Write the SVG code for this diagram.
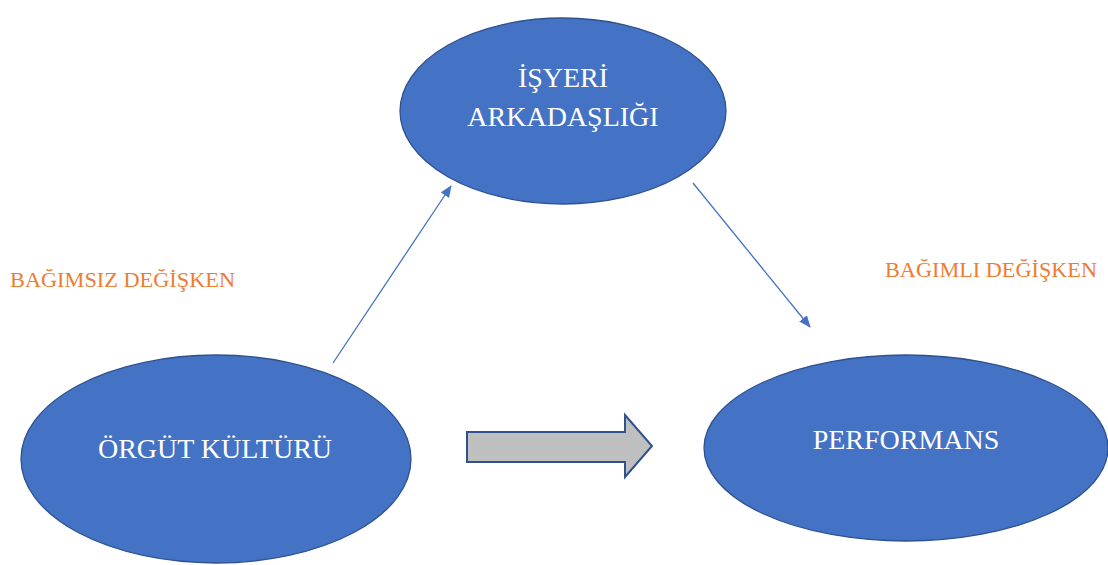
<svg xmlns="http://www.w3.org/2000/svg" width="1108" height="565" viewBox="0 0 1108 565">
<style>
.node{fill:#4472C4;stroke:#2F528F;stroke-width:1.3}
.nt{font-family:"Liberation Serif","Times New Roman",serif;font-size:28px;fill:#FFFFFF;text-anchor:middle}
.lbl{font-family:"Liberation Serif","Times New Roman",serif;font-size:22px;fill:#ED7D31}
.conn{stroke:#4472C4;stroke-width:1.3;fill:none}
</style>
<defs>
<marker id="ah" markerWidth="12" markerHeight="10" refX="11" refY="5" orient="auto" markerUnits="userSpaceOnUse">
<path d="M0,0 L12,5 L0,10 Z" fill="#4472C4"/>
</marker>
</defs>
<rect width="1108" height="565" fill="#FFFFFF"/>
<g id="isyeri">
<ellipse class="node" cx="563" cy="111" rx="163" ry="93"/>
<text class="nt" x="563" y="87">İŞYERİ</text>
<text class="nt" x="563" y="126">ARKADAŞLIĞI</text>
</g>
<g id="orgut">
<ellipse class="node" cx="216" cy="459" rx="195" ry="104"/>
<text class="nt" x="215" y="458">ÖRGÜT KÜLTÜRÜ</text>
</g>
<g id="performans">
<ellipse class="node" cx="906" cy="448" rx="202" ry="93"/>
<text class="nt" x="906" y="449">PERFORMANS</text>
</g>
<g id="labels">
<text class="lbl" x="10" y="287" textLength="225" lengthAdjust="spacingAndGlyphs">BAĞIMSIZ DEĞİŞKEN</text>
<text class="lbl" x="885" y="277" textLength="212" lengthAdjust="spacingAndGlyphs">BAĞIMLI DEĞİŞKEN</text>
</g>
<g id="connectors">
<line class="conn" x1="333" y1="363" x2="451" y2="186" marker-end="url(#ah)"/>
<line class="conn" x1="693" y1="183" x2="810" y2="327" marker-end="url(#ah)"/>
<path d="M467,432 L625,432 L625,415 L652,446 L625,477 L625,462 L467,462 Z" fill="#BFBFBF" stroke="#2F528F" stroke-width="2"/>
</g>
</svg>
